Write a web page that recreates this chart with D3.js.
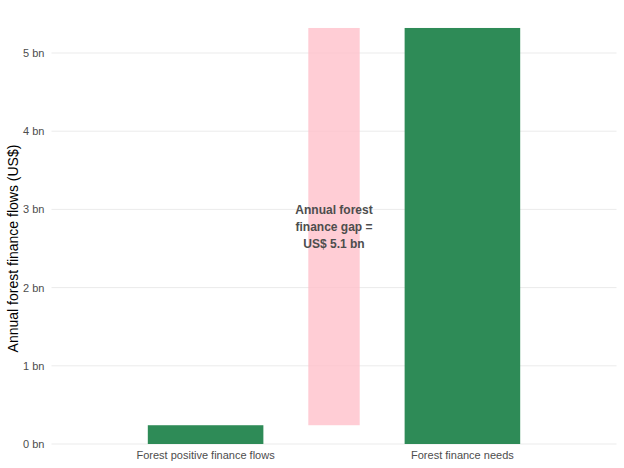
<!DOCTYPE html>
<html>
<head>
<meta charset="utf-8">
<script src="https://cdn.jsdelivr.net/npm/d3@7"></script>
<style>
  body { margin: 0; background: #fff; }
  svg { display: block; font-family: "Liberation Sans", Arial, sans-serif; }
</style>
</head>
<body>
<div id="grafico"></div>
<script>
// dados do gráfico
const categorias = ["Forest positive finance flows", "Forest finance needs"];
const valores = [0.24, 5.32]; // bilhões US$
const yTicks = [0, 1, 2, 3, 4, 5];
const gapLabel = ["Annual forest", "finance gap =", "US$ 5.1 bn"];

const width = 624;
const height = 468;

const svg = d3.select("#grafico").append("svg")
    .attr("width", width)
    .attr("height", height);

// posições discretas (1, 2) como no ggplot, com expansão de 0.6
const x = d3.scaleLinear()
    .domain([0.4, 2.6])
    .range([51.5, 616.5]);

const y = d3.scaleLinear()
    .domain([0, 5])
    .range([444, 53]);

// grade horizontal
svg.append("g")
    .selectAll("line")
    .data(yTicks)
    .join("line")
    .attr("x1", x(0.4))
    .attr("x2", x(2.6))
    .attr("y1", d => y(d))
    .attr("y2", d => y(d))
    .attr("stroke", "#ebebeb")
    .attr("stroke-width", 1);

// eixo y
const yAxis = svg.append("g")
    .attr("transform", `translate(${x(0.4)},0)`)
    .call(d3.axisLeft(y).tickValues(yTicks).tickSize(0).tickPadding(7).tickFormat(d => d + " bn"));
yAxis.select(".domain").remove();
yAxis.selectAll("text")
    .attr("fill", "#4d4d4d")
    .style("font-size", "11px")
    .style("font-family", "'Liberation Sans', Arial, sans-serif");

// barra da lacuna (gap)
svg.append("rect")
    .attr("x", x(1.5 - 0.1))
    .attr("width", x(1.6) - x(1.4))
    .attr("y", y(valores[1]))
    .attr("height", y(valores[0]) - y(valores[1]))
    .attr("fill", "pink")
    .attr("fill-opacity", 0.8);

// barras principais
svg.append("g")
    .selectAll("rect")
    .data(valores)
    .join("rect")
    .attr("x", (d, i) => x(i + 1 - 0.225))
    .attr("width", x(1.45) - x(1))
    .attr("y", d => y(d))
    .attr("height", d => y(0) - y(d))
    .attr("fill", "#2E8B57");

// rótulos do eixo x
svg.append("g")
    .selectAll("text")
    .data(categorias)
    .join("text")
    .attr("x", (d, i) => x(i + 1))
    .attr("y", 459)
    .attr("text-anchor", "middle")
    .attr("fill", "#4d4d4d")
    .style("font-size", "11px")
    .text(d => d);

// título do eixo y
svg.append("text")
    .attr("transform", `translate(18,${y(2.5)}) rotate(-90)`)
    .attr("text-anchor", "middle")
    .attr("fill", "#000")
    .style("font-size", "14px")
    .text("Annual forest finance flows (US$)");

// anotação
svg.append("text")
    .attr("text-anchor", "middle")
    .attr("fill", "#4d4d4d")
    .style("font-size", "12px")
    .style("font-weight", "bold")
    .selectAll("tspan")
    .data(gapLabel)
    .join("tspan")
    .attr("x", x(1.5))
    .attr("y", (d, i) => 214 + i * 17)
    .text(d => d);
</script>
</body>
</html>
